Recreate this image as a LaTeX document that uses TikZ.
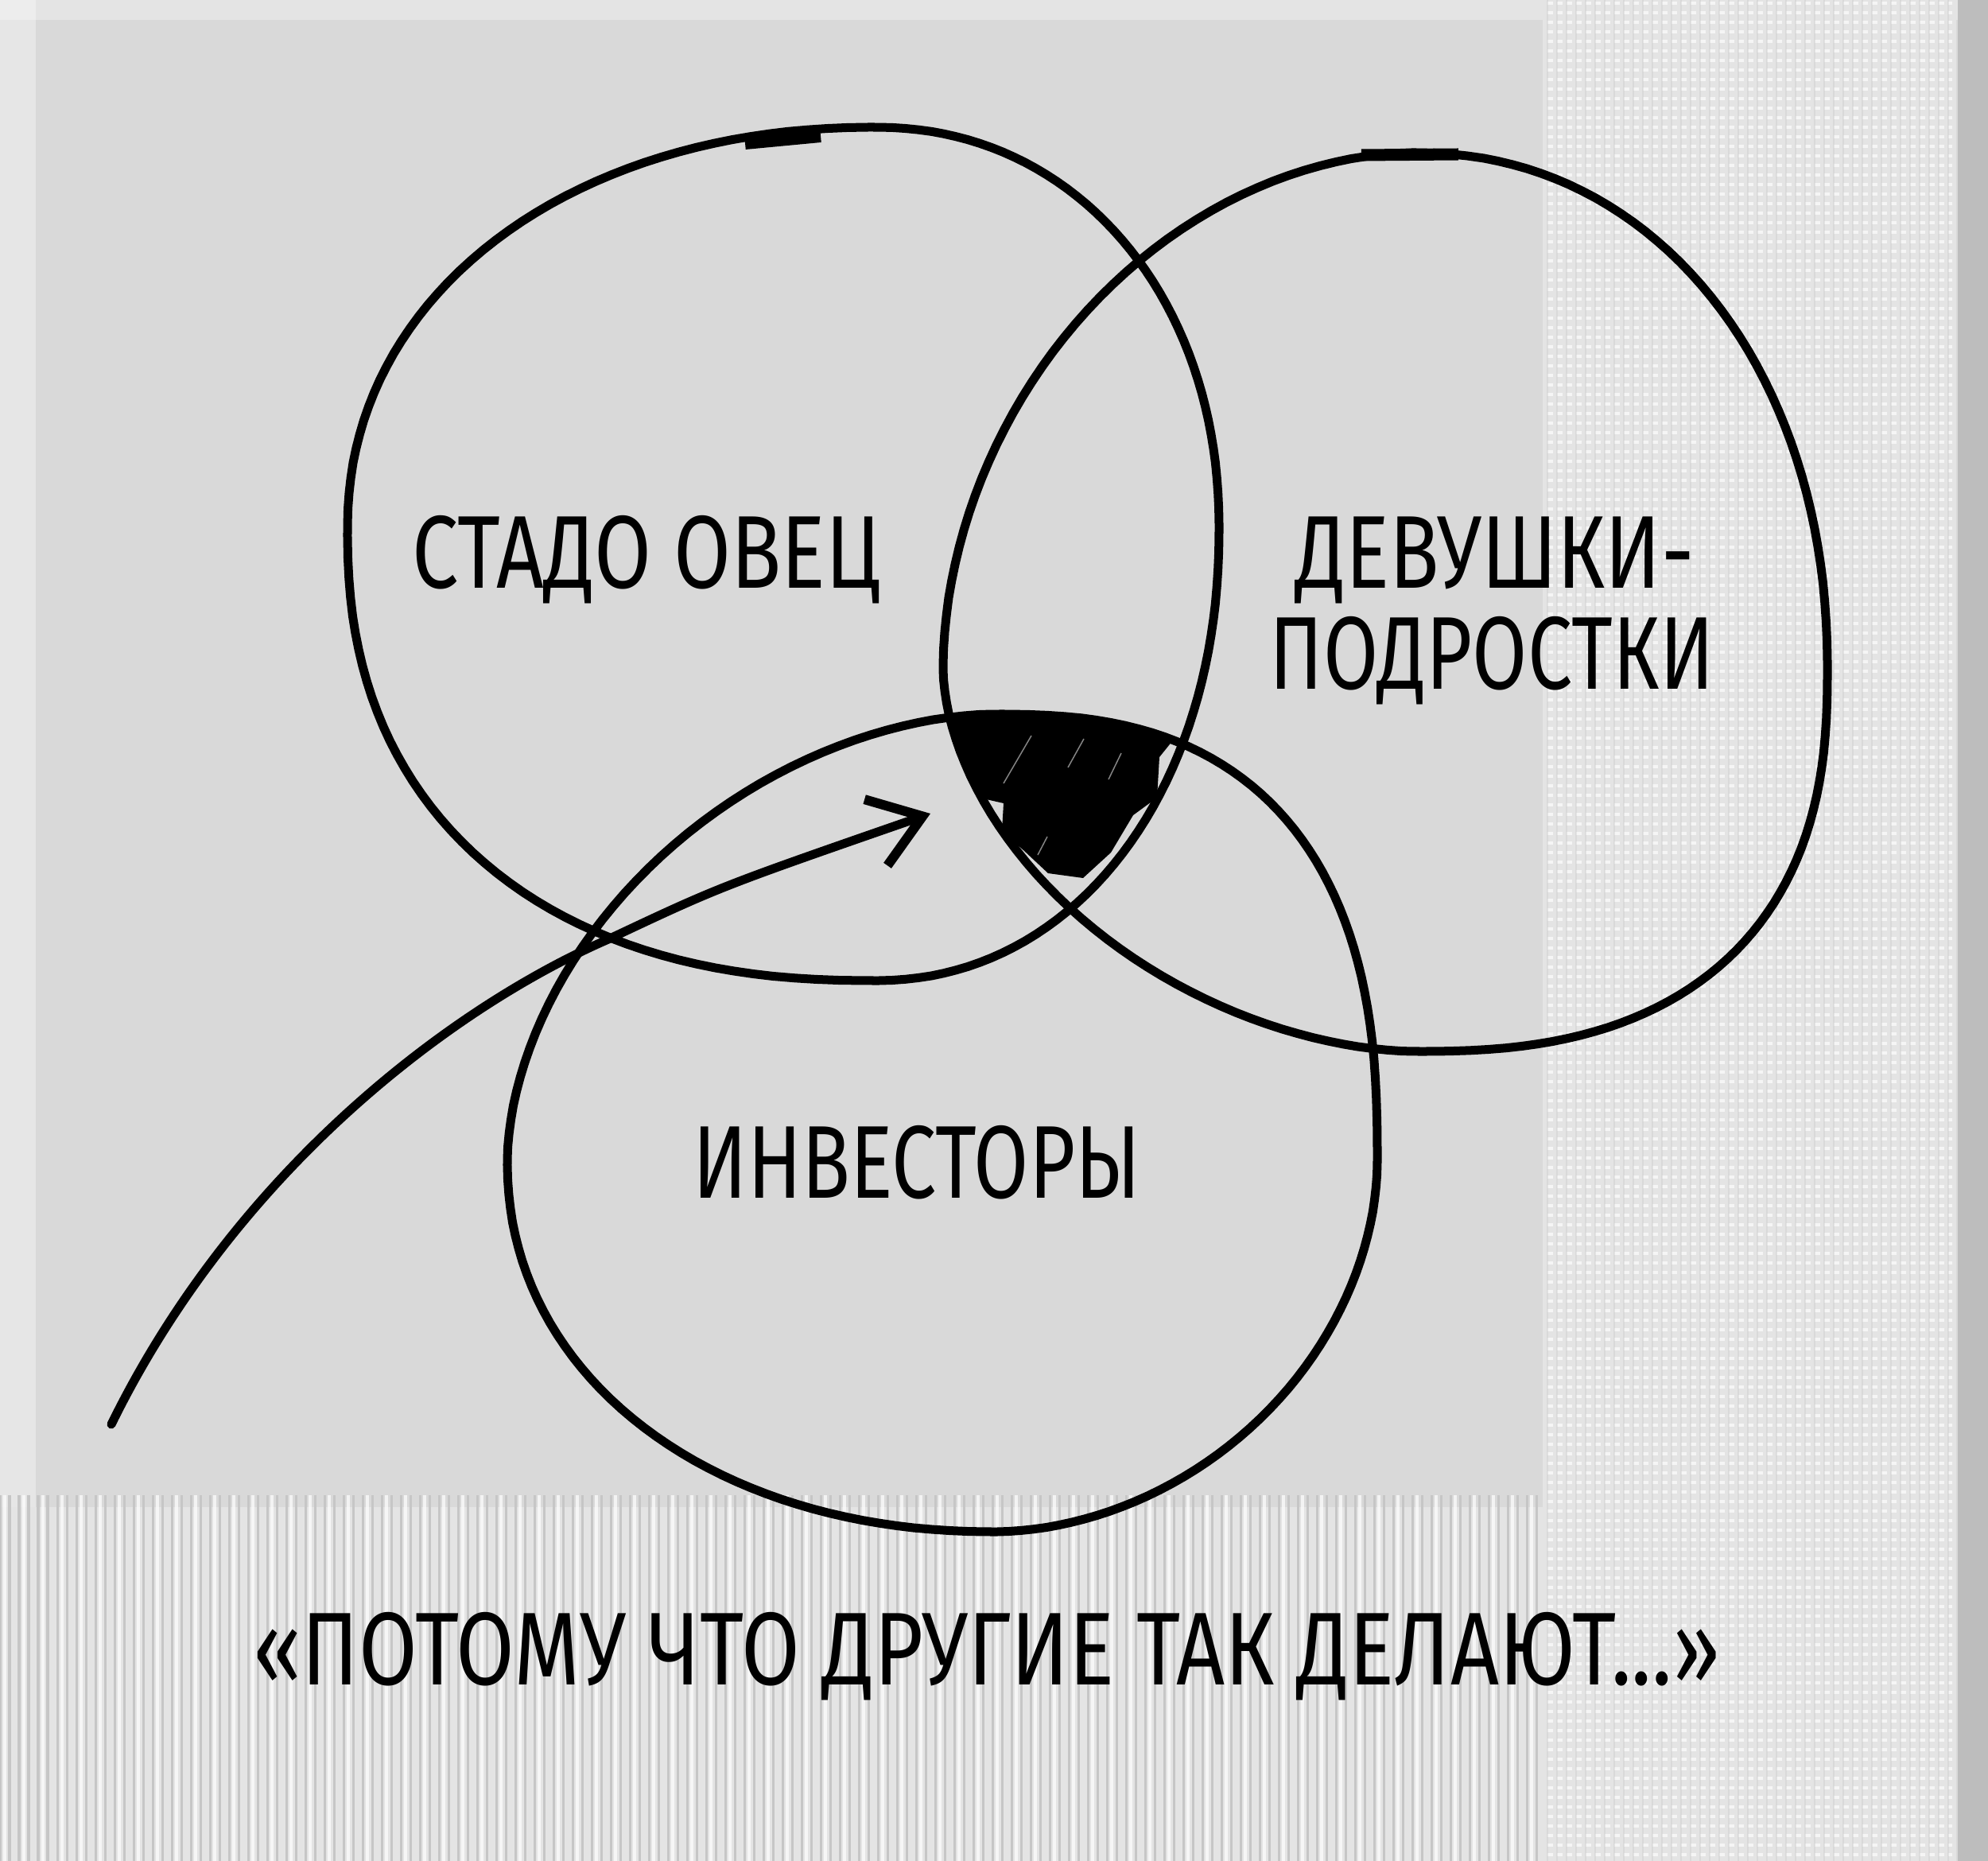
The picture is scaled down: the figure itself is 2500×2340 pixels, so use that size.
\documentclass[tikz,border=0pt]{standalone}
\usepackage{fontspec}
\newfontfamily\hand{Fira Sans}
\usetikzlibrary{arrows.meta}
\definecolor{napkin}{HTML}{D9D9D9}
\definecolor{napkinlight}{HTML}{E4E4E4}
\definecolor{ridge}{HTML}{C6C6C6}
\definecolor{edgeshade}{HTML}{BDBDBD}
\begin{document}
\begin{tikzpicture}[x=0.01cm,y=-0.01cm,
  ink/.style={line width=0.11cm, black, line cap=round, line join=round},
  lbl/.style={font=\hand\fontsize{37}{40}\selectfont, inner sep=0pt, text=black, anchor=base},
  arrowline/.style={ink, -{Straight Barb[length=0.62cm, width=0.88cm, line width=0.12cm]}},
  streak/.style={gray!70, line width=0.015cm, opacity=0.8},
  % sheep circle: four superelliptic quadrants
  circA/.style={insert path={
    plot[domain=0.5:89.5, samples=45] ({1100+433*cos(\x)^(0.9524)}, {665-505*sin(\x)^(0.9524)})
    -- plot[domain=89.5:0.5, samples=45] ({1100-663*cos(\x)^(0.9524)}, {665-505*sin(\x)^(0.9524)})
    -- plot[domain=0.5:89.5, samples=45] ({1100-663*cos(\x)^(0.87)}, {665+568*sin(\x)^(0.87)})
    -- plot[domain=89.5:0.5, samples=45] ({1100+433*cos(\x)^(0.9524)}, {665+568*sin(\x)^(0.9524)})
    -- cycle}},
  % girls circle
  circB/.style={insert path={
    plot[domain=0.5:89.5, samples=45] ({1780+518*cos(\x)^(0.9524)}, {840-648*sin(\x)^(0.9524)})
    -- plot[domain=89.5:0.5, samples=45] ({1780-594*cos(\x)^(1.0526)}, {840-648*sin(\x)^(1.0526)})
    -- plot[domain=0.5:89.5, samples=45] ({1780-594*cos(\x)^(1.1111)}, {840+482*sin(\x)^(1.1111)})
    -- plot[domain=89.5:0.5, samples=45] ({1780+518*cos(\x)^(0.80)}, {840+482*sin(\x)^(0.80)})
    -- cycle}},
  % investors circle
  circC/.style={insert path={
    plot[domain=0.5:89.5, samples=45] ({1250+482*cos(\x)^(0.78)}, {1460-562*sin(\x)^(0.78)})
    -- plot[domain=89.5:0.5, samples=45] ({1250-612*cos(\x)^(1.10)}, {1460-562*sin(\x)^(1.10)})
    -- plot[domain=0.5:89.5, samples=45] ({1250-612*cos(\x)^(0.9524)}, {1460+466*sin(\x)^(0.9524)})
    -- plot[domain=89.5:0.5, samples=45] ({1250+482*cos(\x)^(1.0526)}, {1460+466*sin(\x)^(1.0526)})
    -- cycle}}]
\useasboundingbox (0,0) rectangle (2500,2340);
% napkin background
\fill[napkin] (0,0) rectangle (2500,2340);
\fill[white, opacity=0.35] (0,0) rectangle (45,2340);
\fill[white, opacity=0.3] (0,0) rectangle (2500,25);
% right woven strip
\fill[napkinlight] (1940,0) rectangle (2460,2340);
\foreach \yy in {4,16,...,2340} {
  \draw[white, opacity=0.65, line width=0.04cm, dash pattern=on 0.07cm off 0.05cm] (1946,\yy) -- (2455,\yy);
}
\foreach \xx in {1946,1958,...,2455} {
  \draw[ridge, opacity=0.35, line width=0.015cm] (\xx,0) -- (\xx,2340);
}
\fill[edgeshade] (2462,0) rectangle (2500,2340);
% bottom ridged strip
\fill[napkinlight] (0,1895) rectangle (1940,2340);
\foreach \xx in {0,12,...,1940} {
  \draw[ridge, line width=0.03cm] (\xx,1880) -- (\xx,2340);
}
\foreach \xx in {6,30,...,1940} {
  \draw[white, opacity=0.7, line width=0.04cm] (\xx,1880) -- (\xx,2340);
}
% shaded triple intersection
\begin{scope}
  \clip[circA];
  \clip[circB];
  \clip[circC];
  \fill[black] (1180,850) -- (1540,850) -- (1458,952) -- (1455,1003) -- (1425,1025)
    -- (1397,1072) -- (1362,1104) -- (1318,1098) -- (1287,1069) -- (1260,1045)
    -- (1262,1010) -- (1240,1005) -- (1217,992) -- (1193,990) -- (1170,950) -- cycle;
  \draw[streak] (1297,925) -- (1262,985);
  \draw[streak] (1363,929) -- (1343,965);
  \draw[streak] (1410,947) -- (1394,980);
  \draw[streak] (1317,1052) -- (1305,1075);
\end{scope}
% circles
\draw[ink, circA];
\draw[ink, circB];
\draw[ink, circC];
% pen start marks
\draw[black, line width=0.16cm] (937,180) -- (1032,171);
\draw[black, line width=0.15cm] (1712,195) -- (1834,194);
% arrow
\coordinate (a0) at (140,1791);
\coordinate (a1) at (765,1181);
\coordinate (a2) at (1170,1023);
\draw[arrowline] (a0) .. controls (295,1475) and (565,1268) .. (a1) .. controls (905,1115) .. (a2);
% labels
\node[lbl, xscale=0.80] (sheep) at (813,739) {СТАДО ОВЕЦ};
\node[lbl, xscale=0.79] (girls1) at (1880,739) {ДЕВУШКИ-};
\node[lbl, xscale=0.77] (girls2) at (1876,866) {ПОДРОСТКИ};
\node[lbl, xscale=0.77] (inv) at (1153,1506) {ИНВЕСТОРЫ};
\node[lbl, xscale=0.82] (cap) at (1241,2118) {«ПОТОМУ ЧТО ДРУГИЕ ТАК ДЕЛАЮТ...»};
\end{tikzpicture}
\end{document}
